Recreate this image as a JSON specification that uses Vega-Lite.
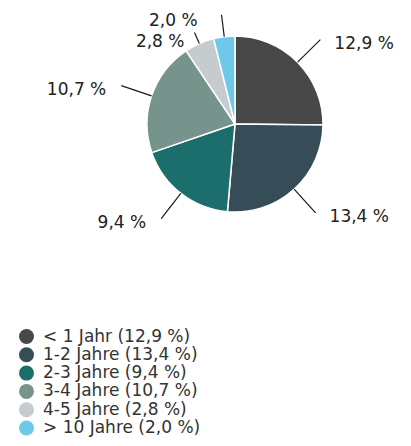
{
  "$schema": "https://vega.github.io/schema/vega-lite/v6.json",
  "width": 352,
  "height": 248,
  "autosize": "none",
  "padding": {"left": 59, "top": 0, "right": 0, "bottom": 198},
  "background": "white",
  "config": {"view": {"stroke": null}, "font": "DejaVu Sans"},
  "data": {
    "values": [
      {"cat": "< 1 Jahr (12,9 %)", "label": "12,9 %", "value": 12.9, "order": 1},
      {"cat": "1-2 Jahre (13,4 %)", "label": "13,4 %", "value": 13.4, "order": 2},
      {"cat": "2-3 Jahre (9,4 %)", "label": "9,4 %", "value": 9.4, "order": 3},
      {"cat": "3-4 Jahre (10,7 %)", "label": "10,7 %", "value": 10.7, "order": 4},
      {"cat": "4-5 Jahre (2,8 %)", "label": "2,8 %", "value": 2.8, "order": 5},
      {"cat": "> 10 Jahre (2,0 %)", "label": "2,0 %", "value": 2.0, "order": 6}
    ]
  },
  "encoding": {
    "theta": {"field": "value", "type": "quantitative", "stack": true},
    "order": {"field": "order", "type": "quantitative", "sort": "ascending"}
  },
  "layer": [
    {
      "mark": {"type": "arc", "radius": 88, "stroke": "white", "strokeWidth": 1.5},
      "encoding": {
        "color": {
          "field": "cat",
          "type": "nominal",
          "scale": {
            "domain": ["< 1 Jahr (12,9 %)", "1-2 Jahre (13,4 %)", "2-3 Jahre (9,4 %)", "3-4 Jahre (10,7 %)", "4-5 Jahre (2,8 %)", "> 10 Jahre (2,0 %)"],
            "range": ["#484848", "#364d58", "#1b6e6c", "#76948c", "#c5cbce", "#6dc8ea"]
          },
          "legend": {
            "title": null,
            "orient": "none",
            "legendX": -41,
            "legendY": 328,
            "symbolType": "circle",
            "symbolSize": 225,
            "symbolStrokeWidth": 0,
            "labelFont": "DejaVu Sans",
            "labelFontSize": 17,
            "labelColor": "#333333",
            "labelOffset": 8,
            "rowPadding": 0.3,
            "labelLimit": 300
          }
        }
      }
    },
    {
      "mark": {"type": "arc", "radius": 120, "radius2": 88, "padAngle": 3, "filled": false, "stroke": "#1a1a1a", "strokeWidth": 1.2},
      "encoding": {"opacity": {"condition": {"test": "datum.order <= 4", "value": 1}, "value": 0}}
    },
    {
      "mark": {"type": "arc", "radius": 100, "radius2": 88, "padAngle": 3, "filled": false, "stroke": "#1a1a1a", "strokeWidth": 1.2},
      "encoding": {"opacity": {"condition": {"test": "datum.order == 5", "value": 1}, "value": 0}}
    },
    {
      "mark": {"type": "arc", "radius": 110, "radius2": 88, "padAngle": 3, "filled": false, "stroke": "#1a1a1a", "strokeWidth": 1.2},
      "encoding": {"opacity": {"condition": {"test": "datum.order == 6", "value": 1}, "value": 0}}
    },
    {
      "mark": {"type": "text", "radius": 120, "align": "left", "baseline": "middle", "dx": 14, "dy": 4, "fontSize": 17, "color": "#222222", "font": "DejaVu Sans"},
      "encoding": {
        "text": {"field": "label"},
        "opacity": {"condition": {"test": "datum.order <= 2", "value": 1}, "value": 0}
      }
    },
    {
      "mark": {"type": "text", "radius": 120, "align": "right", "baseline": "middle", "dx": -15, "dy": 4, "fontSize": 17, "color": "#222222", "font": "DejaVu Sans"},
      "encoding": {
        "text": {"field": "label"},
        "opacity": {"condition": {"test": "datum.order == 3 || datum.order == 4", "value": 1}, "value": 0}
      }
    },
    {
      "mark": {"type": "text", "radius": 100, "align": "right", "baseline": "middle", "dx": -10, "dy": 9, "fontSize": 17, "color": "#222222", "font": "DejaVu Sans"},
      "encoding": {
        "text": {"field": "label"},
        "opacity": {"condition": {"test": "datum.order == 5", "value": 1}, "value": 0}
      }
    },
    {
      "mark": {"type": "text", "radius": 110, "align": "right", "baseline": "middle", "dx": -24, "dy": 6, "fontSize": 17, "color": "#222222", "font": "DejaVu Sans"},
      "encoding": {
        "text": {"field": "label"},
        "opacity": {"condition": {"test": "datum.order == 6", "value": 1}, "value": 0}
      }
    }
  ]
}
